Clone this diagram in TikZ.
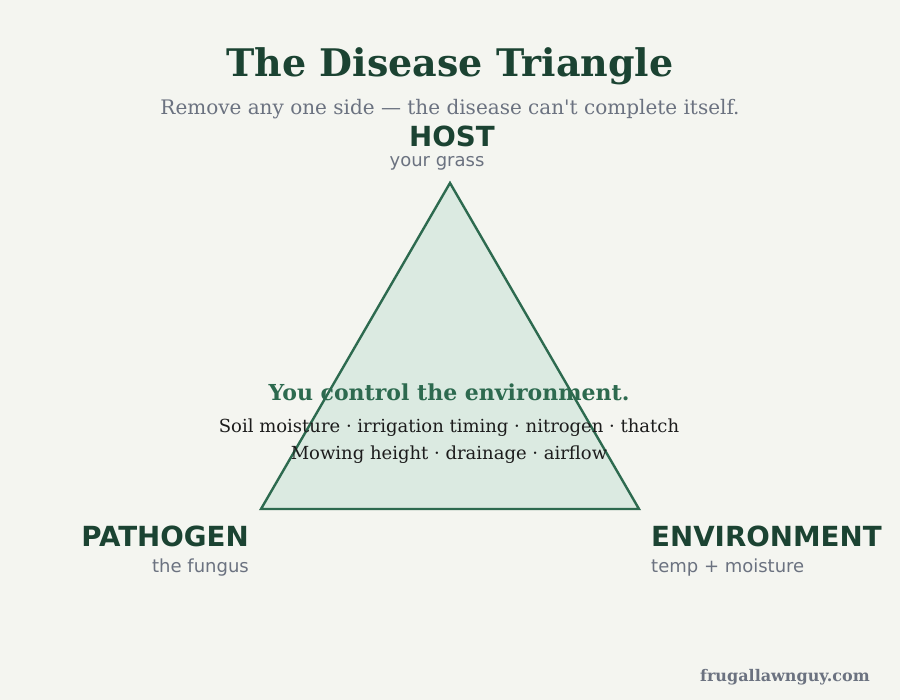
\documentclass[tikz,border=0pt]{standalone}
\usepackage{fontspec}
\setmainfont{DejaVu Serif}
\setsansfont{DejaVu Sans}
\usetikzlibrary{positioning,calc}
\definecolor{lawnbg}{RGB}{244,245,240}
\definecolor{lawndark}{RGB}{27,67,50}
\definecolor{lawnmid}{RGB}{45,106,79}
\definecolor{lawnfill}{RGB}{219,234,225}
\definecolor{lawngray}{RGB}{107,114,128}
\definecolor{lawnink}{RGB}{28,28,28}

\tikzset{
  corner/.style={font=\sffamily\bfseries\fontsize{27.7}{30}\selectfont, text=lawndark, inner sep=0pt},
  cornersub/.style={font=\sffamily\fontsize{18}{20}\selectfont, text=lawngray, inner sep=0pt},
  bodyline/.style={font=\fontsize{18}{20}\selectfont, text=lawnink, inner sep=0pt, anchor=base}
}

\begin{document}
\begin{tikzpicture}[x=1pt, y=-1pt]
\fill[lawnbg] (0,0) rectangle (900,700);
\useasboundingbox (0,0) rectangle (900,700);

% title block
\node[font=\bfseries\fontsize{38}{42}\selectfont, text=lawndark, anchor=base, inner sep=0pt]
  (title) at (450,77) {The Disease Triangle};
\node[font=\fontsize{20}{22}\selectfont, text=lawngray, anchor=base, inner sep=0pt]
  (subtitle) at (450,115) {Remove any one side --- the disease can\textquotesingle t complete itself.};

% the triangle
\coordinate (top) at (450,183);
\coordinate (left) at (261,509);
\coordinate (right) at (639,509);
\draw[lawnmid, fill=lawnfill, line width=2.4pt, line join=miter] (top) -- (left) -- (right) -- cycle;

% corner labels
\node[corner, anchor=base] (host) at (452,147) {HOST};
\node[cornersub, anchor=base] (hostsub) at (437,167) {your grass};
\node[corner, anchor=base east] (pathogen) at (249,546) {PATHOGEN};
\node[cornersub, anchor=base east] (pathogensub) at (249,572) {the fungus};
\node[corner, anchor=base west] (environment) at (651,546) {ENVIRONMENT};
\node[cornersub, anchor=base west] (environmentsub) at (651,572) {temp + moisture};

% what you control
\node[font=\bfseries\fontsize{22}{24}\selectfont, text=lawnmid, anchor=base, inner sep=0pt]
  (control) at (449,401) {You control the environment.};
\node[bodyline] (levers) at (449,433) {Soil moisture · irrigation timing · nitrogen · thatch};
\node[bodyline] (levers2) at (449,460) {Mowing height · drainage · airflow};

% footer
\node[font=\bfseries\fontsize{16}{18}\selectfont, text=lawngray, anchor=base east, inner sep=0pt]
  (site) at (870,681) {frugallawnguy.com};
\end{tikzpicture}
\end{document}
